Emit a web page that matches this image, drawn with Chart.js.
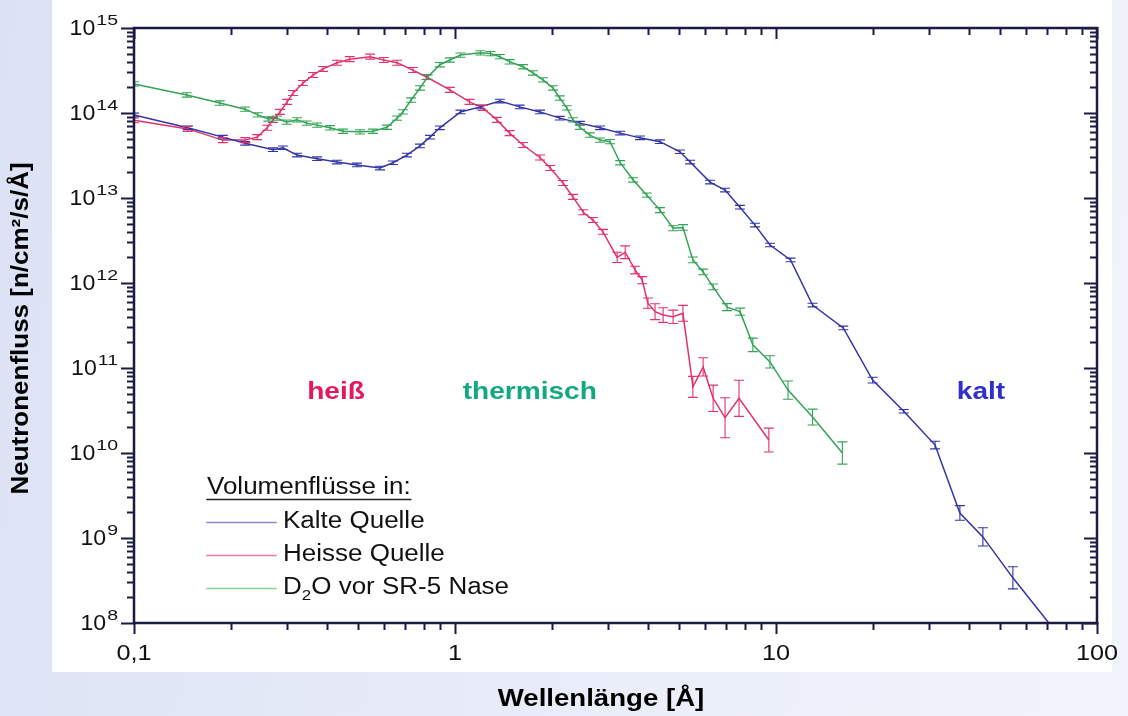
<!DOCTYPE html>
<html>
<head>
<meta charset="utf-8">
<script src="https://cdn.jsdelivr.net/npm/chart.js@4"></script>
<style>
  html, body { margin: 0; padding: 0; }
  body {
    width: 1128px; height: 716px; position: relative; overflow: hidden;
    background: linear-gradient(100deg, #dce2f5 0%, #e9edf9 55%, #f2f4fb 100%);
  }
  #paper { position: absolute; left: 52px; top: 0; width: 1060px; height: 672px; background: #fff; }
  #wrap { position: absolute; left: 0; top: 0; }
</style>
</head>
<body>
<div id="paper"></div>
<div id="wrap"><canvas id="flux" width="1128" height="716"></canvas></div>
<script>
// Kalte Quelle
const coldX = [0.1, 0.147, 0.189, 0.222, 0.271, 0.291, 0.322, 0.372, 0.429, 0.495,
  0.584, 0.641, 0.708, 0.778, 0.836, 0.897, 1.04, 1.20, 1.38, 1.59,
  1.84, 2.12, 2.45, 2.83, 3.27, 3.77, 4.35, 5.02, 5.40, 6.23,
  6.94, 7.72, 8.6, 9.58, 11.1, 13.0, 16.2, 20.0, 25.0, 31.3,
  37.4, 44.1, 54.7, 71.4];
const coldY = [9.5e13, 6.7e13, 5.2e13, 4.4e13, 3.7e13, 3.9e13, 3.2e13, 2.9e13, 2.65e13, 2.45e13,
  2.25e13, 2.6e13, 3.2e13, 4.1e13, 5.2e13, 6.7e13, 1.03e14, 1.18e14, 1.38e14, 1.18e14,
  1.03e14, 8.7e13, 7.6e13, 6.7e13, 5.8e13, 5.1e13, 4.6e13, 3.5e13, 2.65e13, 1.54e13,
  1.24e13, 7.8e12, 4.8e12, 2.8e12, 1.87e12, 5.5e11, 2.96e11, 7.2e10, 3.1e10, 1.24e10,
  1.97e9, 1.03e9, 3.4e8, 9.6e7];
// error as factor (bar from y/f to y*f)
const coldErr = [1.05, 1.05, 1.05, 1.05, 1.05, 1.05, 1.05, 1.05, 1.05, 1.05,
  1.05, 1.05, 1.05, 1.05, 1.05, 1.05, 1.05, 1.05, 1.05, 1.05,
  1.05, 1.05, 1.05, 1.05, 1.05, 1.05, 1.05, 1.05, 1.05, 1.05,
  1.05, 1.05, 1.05, 1.05, 1.05, 1.05, 1.05, 1.08, 1.05, 1.11,
  1.22, 1.28, 1.35, 1];

// Heisse Quelle
const hotX = [0.1, 0.147, 0.189, 0.222, 0.242, 0.26, 0.271, 0.285, 0.30, 0.313,
  0.336, 0.361, 0.388, 0.429, 0.47, 0.544, 0.6, 0.66, 0.74, 0.815,
  0.964, 1.11, 1.22, 1.35, 1.48, 1.63, 1.84, 1.98, 2.17, 2.33,
  2.51, 2.69, 2.89, 3.2, 3.39, 3.64, 3.83, 3.99, 4.2, 4.45,
  4.78, 5.13, 5.51, 5.93, 6.37, 6.94, 7.67, 9.5];
const hotY = [8.2e13, 6.5e13, 4.8e13, 4.8e13, 5.2e13, 6.7e13, 8.3e13, 1.03e14, 1.35e14, 1.72e14,
  2.25e14, 2.8e14, 3.3e14, 3.9e14, 4.3e14, 4.6e14, 4.2e14, 3.9e14, 3.2e14, 2.65e14,
  1.87e14, 1.35e14, 1.15e14, 8.3e13, 5.8e13, 4.2e13, 3.0e13, 2.25e13, 1.5e13, 1.03e13,
  6.8e12, 5.5e12, 4.0e12, 2.0e12, 2.3e12, 1.42e12, 1.08e12, 5.8e11, 4.6e11, 4.2e11,
  4.0e11, 4.4e11, 6.0e10, 1.03e11, 4.4e10, 2.6e10, 4.4e10, 1.42e10];
const hotErr = [1.07, 1.07, 1.07, 1.07, 1.07, 1.07, 1.07, 1.07, 1.07, 1.07,
  1.07, 1.07, 1.07, 1.07, 1.07, 1.07, 1.07, 1.07, 1.07, 1.07,
  1.07, 1.07, 1.07, 1.07, 1.07, 1.07, 1.07, 1.07, 1.07, 1.07,
  1.07, 1.07, 1.07, 1.15, 1.19, 1.11, 1.1, 1.15, 1.24, 1.22,
  1.2, 1.24, 1.33, 1.28, 1.43, 1.72, 1.63, 1.38];

// D2O vor SR-5 Nase
const heavyX = [0.1, 0.146, 0.185, 0.222, 0.243, 0.262, 0.279, 0.299, 0.322, 0.345,
  0.372, 0.408, 0.448, 0.506, 0.555, 0.614, 0.66, 0.688, 0.73, 0.778,
  0.822, 0.897, 0.964, 1.04, 1.20, 1.29, 1.38, 1.48, 1.63, 1.75,
  1.88, 2.02, 2.12, 2.23, 2.33, 2.45, 2.63, 2.83, 3.04, 3.27,
  3.59, 3.96, 4.35, 4.78, 5.13, 5.51, 5.93, 6.37, 7.04, 7.73,
  8.47, 9.58, 10.9, 13.0, 16.1];
const heavyY = [2.2e14, 1.63e14, 1.31e14, 1.11e14, 9.5e13, 8.5e13, 8.7e13, 7.8e13, 8.3e13, 7.6e13,
  7.2e13, 6.7e13, 6.1e13, 6.0e13, 6.1e13, 6.8e13, 8.7e13, 1.03e14, 1.42e14, 1.97e14,
  2.65e14, 3.7e14, 4.2e14, 4.8e14, 5.1e14, 5.0e14, 4.6e14, 4.0e14, 3.5e14, 2.96e14,
  2.45e14, 1.97e14, 1.5e14, 1.15e14, 8.3e13, 6.8e13, 5.5e13, 4.8e13, 4.6e13, 2.6e13,
  1.63e13, 1.08e13, 7.2e12, 4.4e12, 4.5e12, 1.87e12, 1.35e12, 9.0e11, 5.2e11, 4.6e11,
  1.87e11, 1.18e11, 5.5e10, 2.65e10, 1.0e10];
const heavyErr = [1.06, 1.06, 1.06, 1.06, 1.06, 1.06, 1.06, 1.06, 1.06, 1.06,
  1.06, 1.06, 1.06, 1.06, 1.06, 1.06, 1.06, 1.06, 1.06, 1.06,
  1.06, 1.06, 1.06, 1.06, 1.06, 1.06, 1.06, 1.06, 1.06, 1.06,
  1.06, 1.06, 1.06, 1.06, 1.06, 1.06, 1.06, 1.06, 1.06, 1.06,
  1.06, 1.06, 1.07, 1.07, 1.08, 1.08, 1.08, 1.08, 1.1, 1.1,
  1.2, 1.18, 1.28, 1.24, 1.35];

const seriesNames = ['Kalte Quelle', 'Heisse Quelle', 'D\u2082O vor SR-5 Nase'];
const legendTitle = 'Volumenflüsse in:';

const noteText = ['heiß', 'thermisch', 'kalt'];
const noteX = [0.426, 1.71, 43.5];
const noteY = [5.2e10, 5.2e10, 5.2e10];

const xTickValues = [0.1, 1, 10, 100];
const xTickLabels = ['0,1', '1', '10', '100'];
const yExponents = [8, 9, 10, 11, 12, 13, 14, 15];

const xTitle = 'Wellenlänge [Å]';
const yTitle = 'Neutronenfluss [n/cm²/s/Å]';

const FONT = '"Liberation Sans", Arial, sans-serif';
const AXIS_INK = '#1b1b45';
const noteColors = ['#e4195c', '#13a97f', '#2f2fcf'];

function pairs(xs, ys) {
  return xs.map((x, i) => ({ x, y: ys[i] }));
}

function wideText(ctx, text, x, y, align, sx) {
  ctx.save();
  ctx.translate(x, y);
  ctx.scale(sx, 1);
  ctx.textAlign = align;
  ctx.fillText(text, 0, 0);
  ctx.restore();
}

function logTicks(min, max) {
  const out = [];
  for (let e = Math.floor(Math.log10(min)); e <= Math.ceil(Math.log10(max)); e++) {
    for (let m = 1; m <= 9; m++) {
      const v = m * Math.pow(10, e);
      if (v >= min * 0.999 && v <= max * 1.001) out.push({ v, major: m === 1 });
    }
  }
  return out;
}

const errorBars = {
  id: 'errorBars',
  afterDatasetsDraw(chart) {
    const { ctx, chartArea: a, scales: { x, y } } = chart;
    ctx.save();
    ctx.beginPath();
    ctx.rect(a.left, a.top, a.right - a.left, a.bottom - a.top);
    ctx.clip();
    chart.data.datasets.forEach(ds => {
      ctx.strokeStyle = ds.borderColor;
      ctx.lineWidth = 1.1;
      ds.data.forEach((p, j) => {
        const f = ds.errFactor[j];
        if (!f || f <= 1) return;
        const px = x.getPixelForValue(p.x);
        const top = y.getPixelForValue(p.y * f);
        const bot = y.getPixelForValue(p.y / f);
        ctx.beginPath();
        ctx.moveTo(px, top); ctx.lineTo(px, bot);
        ctx.moveTo(px - 5, top); ctx.lineTo(px + 5, top);
        ctx.moveTo(px - 5, bot); ctx.lineTo(px + 5, bot);
        ctx.stroke();
      });
    });
    ctx.restore();
  }
};

// D₂O with a real subscript
function labelText(ctx, text, x, y, sx) {
  const parts = text.split('\u2082');
  if (parts.length === 1) { wideText(ctx, text, x, y, 'left', sx); return; }
  const base = ctx.font;
  wideText(ctx, parts[0], x, y, 'left', sx);
  let cx = x + ctx.measureText(parts[0]).width * sx;
  ctx.font = base.replace(/\d+px/, '15px');
  wideText(ctx, '2', cx, y + 8, 'left', sx);
  cx += ctx.measureText('2').width * sx;
  ctx.font = base;
  wideText(ctx, parts[1], cx, y, 'left', sx);
}

const frame = {
  id: 'frame',
  afterDraw(chart) {
    const { ctx, chartArea: a, scales: { x, y } } = chart;
    ctx.save();
    ctx.strokeStyle = AXIS_INK;
    ctx.lineCap = 'square';

    // ticks
    ctx.lineWidth = 2;
    ctx.beginPath();
    logTicks(x.min, x.max).forEach(t => {
      const px = Math.round(x.getPixelForValue(t.v)) + 0.5;
      const len = t.major ? 10 : 6;
      ctx.moveTo(px, a.bottom); ctx.lineTo(px, a.bottom + len);
      ctx.moveTo(px, a.top); ctx.lineTo(px, a.top + len);
    });
    logTicks(y.min, y.max).forEach(t => {
      const py = Math.round(y.getPixelForValue(t.v)) + 0.5;
      const len = t.major ? 12 : 6;
      ctx.moveTo(a.left, py); ctx.lineTo(a.left - len, py);
      ctx.moveTo(a.right, py); ctx.lineTo(a.right - len, py);
    });
    ctx.stroke();

    // frame
    ctx.lineWidth = 2.5;
    ctx.strokeRect(a.left, a.top, a.right - a.left, a.bottom - a.top);

    // tick labels
    ctx.fillStyle = '#111';
    ctx.textBaseline = 'middle';
    ctx.font = '22px ' + FONT;
    xTickValues.forEach((v, i) => {
      wideText(ctx, xTickLabels[i], x.getPixelForValue(v), a.bottom + 31, 'center', 1.15);
    });
    yExponents.forEach(e => {
      const py = y.getPixelForValue(Math.pow(10, e));
      ctx.font = '15px ' + FONT;
      const supW = ctx.measureText(String(e)).width * 1.3;
      const right = a.left - 16;
      wideText(ctx, String(e), right - supW, py - 7, 'left', 1.3);
      ctx.font = '22px ' + FONT;
      wideText(ctx, '10', right - supW - 1, py + 1, 'right', 1.05);
    });

    // axis titles
    ctx.font = 'bold 23px ' + FONT;
    ctx.fillStyle = '#000';
    wideText(ctx, xTitle, 601, 700, 'center', 1.2);
    ctx.save();
    ctx.translate(22, (a.top + a.bottom) / 2 + 3);
    ctx.rotate(-Math.PI / 2);
    wideText(ctx, yTitle, 0, 0, 'center', 1.13);
    ctx.restore();

    // region notes
    ctx.font = 'bold 24px ' + FONT;
    noteText.forEach((t, i) => {
      ctx.fillStyle = noteColors[i];
      wideText(ctx, t, x.getPixelForValue(noteX[i]), y.getPixelForValue(noteY[i]), 'center', 1.17);
    });

    // legend
    const lx = a.left + 73;
    ctx.fillStyle = '#111';
    ctx.font = '23px ' + FONT;
    wideText(ctx, legendTitle, lx, 488, 'left', 1.13);
    const tw = ctx.measureText(legendTitle).width * 1.13;
    ctx.strokeStyle = '#222';
    ctx.lineWidth = 1.5;
    ctx.beginPath();
    ctx.moveTo(lx, 499.5); ctx.lineTo(lx + tw, 499.5);
    ctx.stroke();
    chart.data.datasets.forEach((ds, i) => {
      const ry = 522 + i * 33;
      ctx.strokeStyle = ds.legendColor;
      ctx.lineWidth = 1.5;
      ctx.beginPath();
      ctx.moveTo(lx, ry + 0.5); ctx.lineTo(lx + 69, ry + 0.5);
      ctx.stroke();
      ctx.fillStyle = '#111';
      labelText(ctx, ds.label, lx + 76, ry, 1.13);
    });
    ctx.restore();
  }
};

const ctx = document.getElementById('flux').getContext('2d');
new Chart(ctx, {
  type: 'line',
  data: {
    datasets: [
      { label: seriesNames[0], data: pairs(coldX, coldY), errFactor: coldErr,
        borderColor: '#3434a6', legendColor: '#8a8ad0' },
      { label: seriesNames[1], data: pairs(hotX, hotY), errFactor: hotErr,
        borderColor: '#e2336a', legendColor: '#f07a9c' },
      { label: seriesNames[2], data: pairs(heavyX, heavyY), errFactor: heavyErr,
        borderColor: '#35a356', legendColor: '#86d296' },
    ],
  },
  options: {
    responsive: false,
    animation: false,
    devicePixelRatio: 1,
    layout: { padding: { top: 28, right: 31, left: 0, bottom: 0 } },
    elements: {
      line: { borderWidth: 1.5, tension: 0 },
      point: { radius: 0, hoverRadius: 0 },
    },
    scales: {
      x: {
        type: 'logarithmic', min: 0.1, max: 100,
        ticks: { display: false }, grid: { display: false }, border: { display: false },
        afterFit: s => { s.height = 93; },
      },
      y: {
        type: 'logarithmic', min: 1e8, max: 1e15,
        ticks: { display: false }, grid: { display: false }, border: { display: false },
        afterFit: s => { s.width = 134; },
      },
    },
    plugins: { legend: { display: false }, tooltip: { enabled: false } },
  },
  plugins: [errorBars, frame],
});
</script>
</body>
</html>
